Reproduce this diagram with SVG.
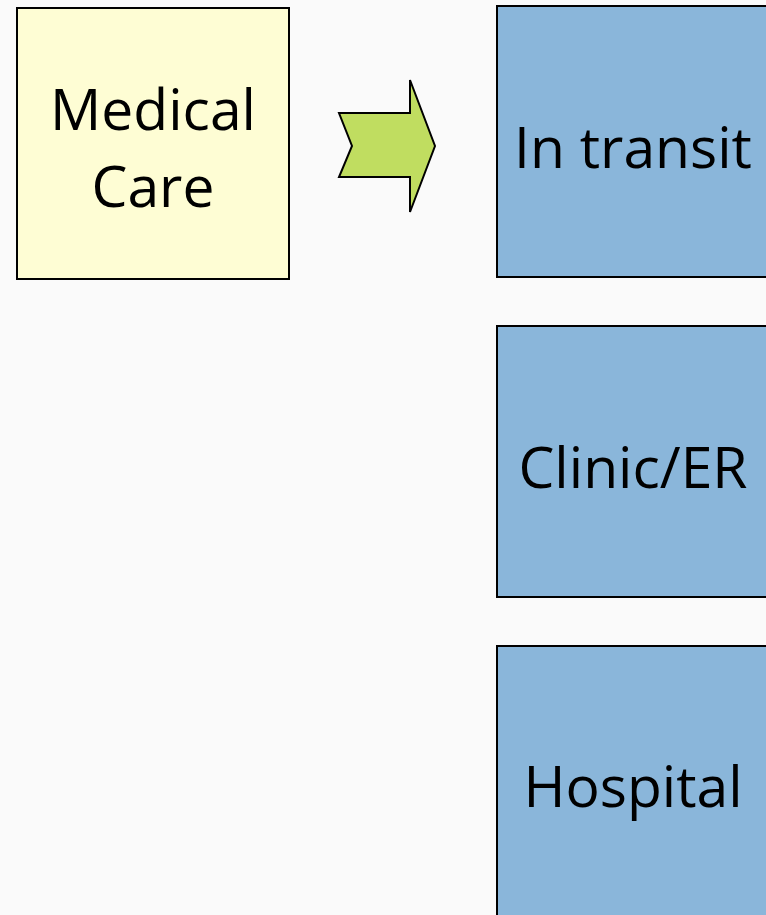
<svg xmlns="http://www.w3.org/2000/svg" width="766" height="915" viewBox="0 0 766 915">
<style>
.lbl{font-family:"Open Sans","Noto Sans",sans-serif;font-size:57px;fill:#000;text-anchor:middle}
.box{stroke:#000;stroke-width:2}
.blue{fill:#8AB6DA}
</style>
<rect width="766" height="915" fill="#FAFAFA"/>
<g id="medical-care">
<rect class="box" x="17" y="8" width="272" height="271" fill="#FEFDD4"/>
<text class="lbl" x="153" y="130">Medical</text>
<text class="lbl" x="153" y="207">Care</text>
</g>
<g id="connectors">
<polygon points="339,113 410,113 410,80 435,146 410,212 410,177 339,177 352,146" fill="#C0DD60" stroke="#000" stroke-width="2" stroke-linejoin="miter"/>
</g>
<g id="in-transit">
<rect class="box blue" x="497" y="6" width="272" height="271"/>
<text class="lbl" x="633" y="168">In transit</text>
</g>
<g id="clinic-er">
<rect class="box blue" x="497" y="326" width="272" height="271"/>
<text class="lbl" x="633" y="488">Clinic/ER</text>
</g>
<g id="hospital">
<rect class="box blue" x="497" y="646" width="272" height="271"/>
<text class="lbl" x="633" y="807">Hospital</text>
</g>
</svg>
